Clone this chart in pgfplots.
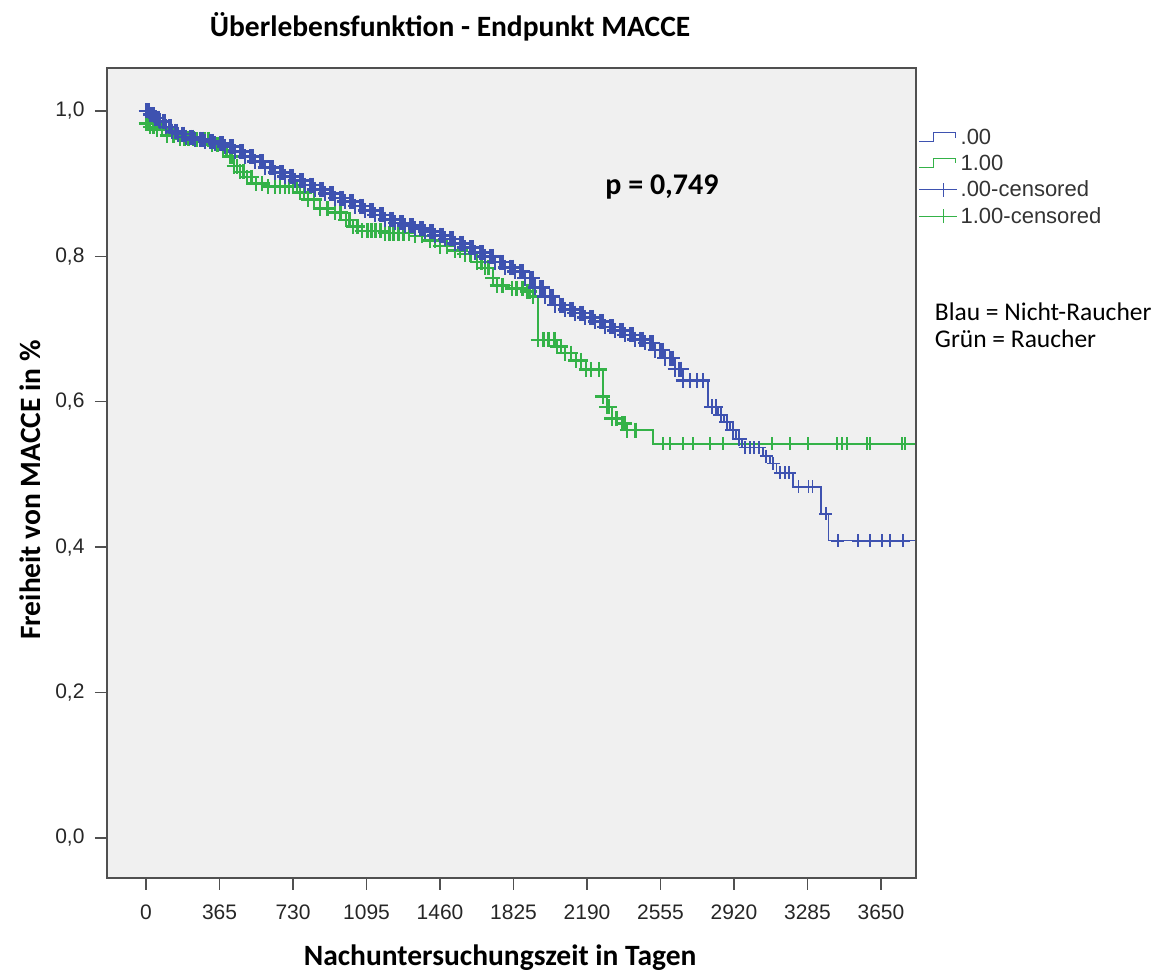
\documentclass[border=0pt]{standalone}
\usepackage{fontspec}
\setmainfont{Liberation Sans}
\newfontfamily\carlito{Carlito}
\usepackage{pgfplots}
\usepackage{pgfplotstable}
\pgfplotsset{compat=1.18}

\definecolor{kmblue}{RGB}{62,82,176}
\definecolor{kmgreen}{RGB}{52,178,72}
\definecolor{panel}{RGB}{240,240,240}
\definecolor{framegray}{RGB}{80,80,80}

\pgfplotsset{
  kmstep/.style={legend image code/.code={
    \draw[##1] (0pt,-4pt) -- (14pt,-4pt) -- (14pt,5pt) -- (36pt,5pt) -- (36pt,0pt);}},
  kmcens/.style={legend image code/.code={
    \draw[##1] (0pt,0pt) -- (38pt,0pt) (24pt,-7pt) -- (24pt,7pt);}},
  cens/.style={only marks, mark=+, mark size=6.5pt, mark options={line width=1.8pt}},
  censdense/.style={only marks, mark=+, mark size=7.5pt, mark options={line width=2.6pt}},
}

% Kaplan-Meier steps: t (days), s (survival), value holds until next row
\pgfplotstableread{
t s
0 1.000
20 0.995
45 0.990
70 0.985
99 0.978
129 0.972
159 0.968
199 0.964
243 0.961
293 0.958
343 0.955
392 0.951
442 0.944
492 0.937
541 0.930
591 0.922
641 0.915
690 0.910
740 0.904
790 0.898
839 0.892
889 0.886
939 0.880
988 0.875
1038 0.869
1088 0.863
1137 0.857
1187 0.851
1237 0.846
1286 0.842
1336 0.838
1386 0.834
1435 0.829
1485 0.824
1534 0.818
1584 0.812
1634 0.805
1683 0.800
1733 0.792
1783 0.785
1832 0.779
1882 0.770
1932 0.757
1981 0.745
2031 0.733
2081 0.727
2130 0.722
2180 0.716
2230 0.710
2279 0.703
2329 0.698
2378 0.692
2428 0.686
2478 0.681
2528 0.671
2577 0.660
2627 0.645
2667 0.629
2791 0.593
2841 0.582
2871 0.572
2900 0.561
2930 0.549
2960 0.537
3064 0.525
3099 0.515
3130 0.502
3213 0.483
3352 0.446
3390 0.409
3820 0.409
}\bluesteps

\pgfplotstableread{
t s
0 0.983
20 0.978
55 0.974
104 0.966
169 0.962
253 0.960
328 0.954
382 0.946
417 0.937
437 0.924
467 0.916
502 0.909
546 0.900
606 0.896
765 0.888
805 0.878
864 0.866
939 0.860
993 0.850
1028 0.841
1073 0.835
1187 0.832
1336 0.828
1410 0.822
1460 0.814
1534 0.808
1584 0.803
1644 0.792
1683 0.784
1723 0.770
1743 0.760
1818 0.756
1892 0.752
1922 0.745
1947 0.685
2041 0.676
2081 0.667
2135 0.657
2185 0.644
2269 0.607
2289 0.593
2314 0.577
2364 0.570
2389 0.561
2518 0.542
3820 0.542
}\greensteps

% censored observations
\pgfplotstableread{
t s
10 1.000
15 1.000
32 0.995
39 0.995
57 0.990
64 0.990
84 0.985
92 0.985
114 0.978
122 0.978
144 0.972
152 0.972
179 0.968
189 0.968
221 0.964
232 0.964
268 0.961
281 0.961
318 0.958
331 0.958
367 0.955
380 0.955
417 0.951
430 0.951
467 0.944
480 0.944
516 0.937
529 0.937
566 0.930
579 0.930
616 0.922
629 0.922
665 0.915
678 0.915
715 0.910
728 0.910
765 0.904
778 0.904
814 0.898
827 0.898
864 0.892
877 0.892
914 0.886
927 0.886
963 0.880
976 0.880
1013 0.875
1026 0.875
1063 0.869
1076 0.869
1112 0.863
1125 0.863
1162 0.857
1175 0.857
1212 0.851
1225 0.851
1261 0.846
1274 0.846
1311 0.842
1324 0.842
1361 0.838
1374 0.838
1410 0.834
1423 0.834
1460 0.829
1473 0.829
1509 0.824
1522 0.824
1559 0.818
1572 0.818
1609 0.812
1622 0.812
1658 0.805
1671 0.805
1708 0.800
1721 0.800
1758 0.792
1771 0.792
1807 0.785
1820 0.785
1857 0.779
1870 0.779
1907 0.770
1920 0.770
1956 0.757
1969 0.757
2006 0.745
2019 0.745
2056 0.733
2069 0.733
2105 0.727
2118 0.727
2155 0.722
2168 0.722
2205 0.716
2218 0.716
2254 0.710
2267 0.710
2304 0.703
2317 0.703
2353 0.698
2366 0.698
2403 0.692
2416 0.692
2453 0.686
2466 0.686
2503 0.681
2516 0.681
2552 0.671
2565 0.671
2602 0.660
2615 0.660
2647 0.645
2657 0.645
2701 0.629
2736 0.629
2766 0.629
2810 0.593
2830 0.593
2855 0.582
2885 0.572
2915 0.561
2945 0.549
2975 0.537
3000 0.537
3020 0.537
3045 0.537
3080 0.525
3115 0.515
3150 0.502
3175 0.502
3195 0.502
3240 0.483
3290 0.483
3310 0.483
3375 0.446
3436 0.409
3536 0.409
3595 0.409
3655 0.409
3695 0.409
3760 0.409
}\bluecens

\pgfplotstableread{
t s
10 0.983
37 0.978
80 0.974
136 0.966
190 0.962
211 0.962
235 0.962
270 0.960
290 0.960
310 0.960
355 0.954
400 0.946
427 0.937
452 0.924
485 0.916
524 0.909
576 0.900
640 0.896
665 0.896
690 0.896
710 0.896
730 0.896
750 0.896
785 0.888
835 0.878
900 0.866
966 0.860
1010 0.850
1050 0.841
1100 0.835
1120 0.835
1140 0.835
1165 0.835
1210 0.832
1230 0.832
1255 0.832
1280 0.832
1305 0.832
1370 0.828
1435 0.822
1495 0.814
1560 0.808
1612 0.803
1665 0.792
1700 0.784
1770 0.760
1840 0.756
1870 0.756
1905 0.752
1975 0.685
2000 0.685
2030 0.685
2060 0.676
2110 0.667
2160 0.657
2210 0.644
2250 0.644
2300 0.593
2335 0.577
2375 0.570
2430 0.561
2567 0.542
2602 0.542
2667 0.542
2716 0.542
2801 0.542
2865 0.542
3109 0.542
3198 0.542
3287 0.542
3432 0.542
3456 0.542
3481 0.542
3580 0.542
3595 0.542
3754 0.542
3769 0.542
}\greencens

\begin{document}
\begin{tikzpicture}
\begin{axis}[
  name=ax,
  scale only axis, width=809pt, height=810pt,
  xmin=-194, xmax=3824, ymin=-0.055, ymax=1.059,
  clip=false,
  axis background/.style={fill=panel},
  axis line style={framegray, line width=1.6pt},
  xtick={0,365,730,1095,1460,1825,2190,2555,2920,3285,3650},
  ytick={0,0.2,0.4,0.6,0.8,1.0},
  xtick pos=bottom, ytick pos=left,
  tick align=outside, major tick length=12pt,
  tick style={framegray, line width=1.5pt},
  ticklabel style={font=\fontsize{21}{25}\selectfont, text=black!85},
  xticklabel style={yshift=-11pt},
  yticklabel style={xshift=-7pt},
  /pgf/number format/assume math mode=true,
  x tick label style={/pgf/number format/1000 sep={}},
  y tick label style={/pgf/number format/.cd, fixed, fixed zerofill, precision=1, use comma},
  xlabel={Nachuntersuchungszeit in Tagen},
  ylabel={Freiheit von MACCE in \%},
  xlabel style={at={(axis description cs:0.486,-0.1086)}, anchor=base,
    font=\carlito\bfseries\fontsize{29.5}{34}\selectfont},
  ylabel style={at={(axis description cs:-0.0816,0.479)}, anchor=base,
    font=\carlito\bfseries\fontsize{29.5}{34}\selectfont},
  legend style={at={(axis description cs:1.003,0.926)}, anchor=north west,
    draw=none, fill=none, font=\fontsize{22}{26}\selectfont,
    row sep=7pt, column sep=2pt, inner sep=0pt,
    nodes={inner sep=1pt, text=black!80}},
  legend cell align=left,
  every axis plot/.append style={line width=1.5pt},
]
\addlegendimage{kmblue, line width=1pt, kmstep}
\addlegendentry{.00}
\addlegendimage{kmgreen, line width=1pt, kmstep}
\addlegendentry{1.00}
\addlegendimage{kmblue, line width=1pt, kmcens}
\addlegendentry{.00-censored}
\addlegendimage{kmgreen, line width=1pt, kmcens}
\addlegendentry{1.00-censored}

\addplot[forget plot, const plot, kmgreen] table[x=t, y=s] {\greensteps};
\addplot[forget plot, censdense, kmgreen, restrict x to domain=0:2450] table[x=t, y=s] {\greensteps};
\addplot[forget plot, censdense, kmgreen, restrict x to domain=0:2450] table[x=t, y=s] {\greencens};
\addplot[forget plot, cens, kmgreen, restrict x to domain=2451:3820] table[x=t, y=s] {\greencens};
\addplot[forget plot, const plot, kmblue] table[x=t, y=s] {\bluesteps};
\addplot[forget plot, censdense, kmblue, restrict x to domain=0:2700] table[x=t, y=s] {\bluesteps};
\addplot[forget plot, censdense, kmblue, restrict x to domain=0:2960] table[x=t, y=s] {\bluecens};
\addplot[forget plot, cens, kmblue, restrict x to domain=2961:3820] table[x=t, y=s] {\bluecens};

\node[anchor=base, font=\carlito\bfseries\fontsize{29.5}{34}\selectfont]
  at (axis description cs:0.424,1.0383) {Überlebensfunktion - Endpunkt MACCE};
\node[anchor=center, font=\carlito\bfseries\fontsize{30}{36}\selectfont]
  at (axis description cs:0.686,0.853) {p = 0,749};
\node[anchor=west, align=left, font=\carlito\fontsize{25.5}{27}\selectfont]
  at (axis description cs:1.019,0.682) {Blau = Nicht-Raucher\\Grün = Raucher};
\end{axis}
\pgfresetboundingbox
\path ([shift={(-107pt,-98pt)}]ax.south west) rectangle ([shift={(1059pt,878pt)}]ax.south west);
\end{tikzpicture}
\end{document}
